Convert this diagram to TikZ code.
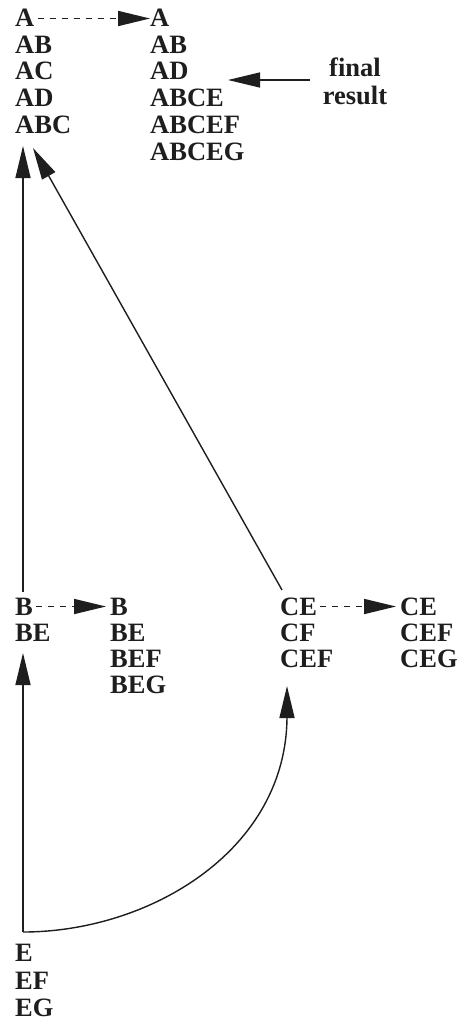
\documentclass[tikz,border=0pt]{standalone}
\usepackage{fontspec}
\setmainfont{Liberation Serif}
\usetikzlibrary{arrows.meta,calc}
\definecolor{ink}{HTML}{1E1E1E}
\begin{document}
\begin{tikzpicture}[x=1pt,y=-1pt,
  lbl/.style={anchor=base west,inner sep=0pt,text height=17pt,text depth=0pt,font=\fontsize{26.5}{26.5}\selectfont\bfseries,text=ink},
  fin/.style={lbl,anchor=base},
  arr/.style={draw=ink,line width=1.4pt,-{Triangle[length=32pt,width=15pt]}},
  dsh/.style={arr,line width=1.7pt,dash pattern=on 6pt off 6pt}]
\useasboundingbox[fill=white] (0,0) rectangle (472,1022);
% top left column
\node[lbl] (a1) at (15,27) {A};
\node[lbl] (a2) at (15,54) {AB};
\node[lbl] (a3) at (15,80) {AC};
\node[lbl] (a4) at (15,107) {AD};
\node[lbl] (a5) at (15,134) {ABC};
% top right column
\node[lbl] (r1) at (150,27) {A};
\node[lbl] (r2) at (150,54) {AB};
\node[lbl] (r3) at (150,80) {AD};
\node[lbl] (r4) at (150,107) {ABCE};
\node[lbl] (r5) at (150,134) {ABCEF};
\node[lbl] (r6) at (150,160) {ABCEG};
% final result
\node[fin] (f1) at (355,77) {final};
\node[fin] (f2) at (355,105) {result};
% middle row
\node[lbl] (b1) at (15,615) {B};
\node[lbl] (b2) at (15,641) {BE};
\node[lbl] (c1) at (110,615) {B};
\node[lbl] (c2) at (110,641) {BE};
\node[lbl] (c3) at (110,667) {BEF};
\node[lbl] (c4) at (110,693) {BEG};
\node[lbl] (d1) at (280,615) {CE};
\node[lbl] (d2) at (280,641) {CF};
\node[lbl] (d3) at (280,667) {CEF};
\node[lbl] (e1) at (400,615) {CE};
\node[lbl] (e2) at (400,641) {CEF};
\node[lbl] (e3) at (400,667) {CEG};
% bottom
\node[lbl] (g1) at (15,961) {E};
\node[lbl] (g2) at (15,989) {EF};
\node[lbl] (g3) at (15,1016) {EG};
% coordinates
\coordinate (fs) at (310,80);
\coordinate (ft) at (228,80);
\coordinate (up1) at (23,592);
\coordinate (up1t) at (23,146);
\coordinate (dg) at (282,590);
\coordinate (dgt) at (33,148);
\coordinate (corner) at (23,932);
\coordinate (up2t) at (23,653);
\coordinate (cvt) at (287,686);
% connectors
\draw[dsh] (a1.east) ++(3,0) -- (r1.west);
\draw[dsh] (b1.east) ++(3,0) -- ($(c1.west)+(-4,0)$);
\draw[dsh] (d1.east) ++(3,0) -- ($(e1.west)+(-4,0)$);
\draw[arr] (fs) -- (ft);
\draw[arr] (up1) -- (up1t);
\draw[arr] (dg) -- (dgt);
\draw[arr] (corner) -- (up2t);
\draw[draw=ink,line width=1.4pt] (corner) .. controls (150,932) and (287,850) .. (287,716);
\draw[arr] (287,717) -- (cvt);
\end{tikzpicture}
\end{document}
